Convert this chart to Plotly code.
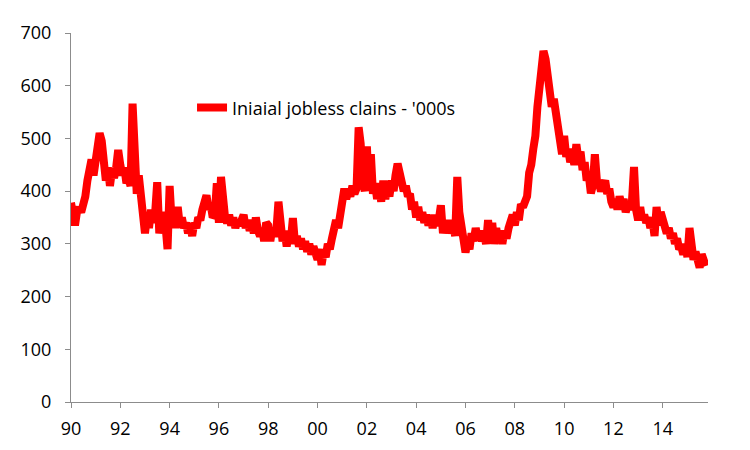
import plotly.graph_objects as go
import pandas as pd

# Initial jobless claims, thousands - monthly readings
claims_90s = [
    378, 355, 335, 362, 368, 360, 372, 390, 420, 440, 460, 430,   # 1990
    470, 495, 510, 495, 470, 420, 445, 410, 440, 425, 445, 478,   # 1991
    450, 430, 445, 415, 425, 410, 566, 420, 395, 430, 380, 340,   # 1992
    320, 355, 330, 365, 340, 360, 417, 320, 350, 360, 335, 290,   # 1993
    410, 340, 360, 330, 370, 335, 350, 330, 340, 320, 335, 315,   # 1994
    340, 330, 350, 345, 365, 380, 392, 365, 375, 350, 355, 415,   # 1995
    340, 427, 380, 350, 340, 355, 335, 350, 330, 345, 335, 350,   # 1996
    355, 330, 345, 325, 340, 320, 350, 325, 315, 330, 305, 340,   # 1997
    335, 305, 330, 315, 325, 380, 330, 305, 325, 295, 320, 305,   # 1998
    349, 300, 315, 295, 310, 290, 305, 285, 300, 280, 295, 285,   # 1999
]
claims_00s = [
    270, 290, 260, 285, 275, 300, 290, 310, 330, 345, 330, 358,   # 2000
    380, 405, 385, 400, 390, 410, 395, 405, 521, 490, 420, 400,   # 2001
    485, 400, 470, 395, 415, 385, 410, 380, 420, 385, 410, 390,   # 2002
    420, 400, 430, 452, 435, 420, 400, 410, 390, 395, 365, 380,   # 2003
    350, 370, 345, 360, 340, 355, 335, 350, 330, 355, 335, 345,   # 2004
    373, 320, 340, 325, 345, 320, 335, 315, 427, 360, 330, 310,   # 2005
    284, 300, 290, 320, 305, 330, 310, 325, 305, 320, 300, 345,   # 2006
    310, 340, 300, 330, 305, 320, 300, 325, 310, 330, 340, 355,   # 2007
    335, 360, 345, 375, 370, 385, 390, 435, 450, 480, 505, 560,   # 2008
    600, 633, 666, 650, 625, 600, 560, 575, 540, 520, 490, 470,   # 2009
]
claims_10s = [
    505, 465, 480, 455, 470, 450, 489, 460, 475, 440, 455, 420,   # 2010
    430, 396, 410, 470, 420, 415, 400, 410, 420, 395, 405, 380,   # 2011
    370, 385, 365, 390, 375, 385, 360, 375, 365, 380, 446, 365,   # 2012
    345, 370, 345, 355, 340, 350, 330, 345, 315, 370, 335, 360,   # 2013
    345, 330, 320, 330, 310, 320, 300, 310, 290, 295, 280, 300,   # 2014
    275, 330, 285, 270, 285, 270, 255, 280, 265, 258,             # 2015
]

claims = claims_90s + claims_00s + claims_10s
dates = pd.date_range("1990-01-01", periods=len(claims), freq="MS")

tick_years = list(range(1990, 2015, 2))
tick_vals = [pd.Timestamp(f"{y}-01-01") for y in tick_years]
tick_text = [f"{y % 100:02d}" for y in tick_years]

fig = go.Figure()
fig.add_trace(go.Scatter(
    x=dates, y=claims, mode="lines",
    name="Iniaial jobless clains - '000s",
    line=dict(color="#ff0000", width=8),
))

fig.update_layout(
    width=750, height=450,
    margin=dict(l=63, r=50, t=19, b=56),
    paper_bgcolor="white", plot_bgcolor="white",
    font=dict(family="Open Sans, Lato, sans-serif", size=18, color="black"),
    showlegend=True,
    legend=dict(x=0.19, y=0.797, xanchor="left", yanchor="middle",
                bgcolor="rgba(0,0,0,0)", font=dict(size=18)),
)
fig.update_xaxes(
    range=[pd.Timestamp("1990-01-01"), pd.Timestamp("2015-11-02")],
    tickvals=tick_vals, ticktext=tick_text,
    showgrid=False, zeroline=False,
    showline=True, linecolor="#8c8c8c", linewidth=1,
    ticks="outside", ticklen=5, tickcolor="#8c8c8c",
    ticklabelstandoff=5,
)
fig.update_yaxes(
    range=[0, 700], dtick=100,
    showgrid=False, zeroline=False,
    showline=True, linecolor="#8c8c8c", linewidth=1,
    ticks="outside", ticklen=5, tickcolor="#8c8c8c",
    ticklabelstandoff=10,
)

fig.write_html("out.html")
